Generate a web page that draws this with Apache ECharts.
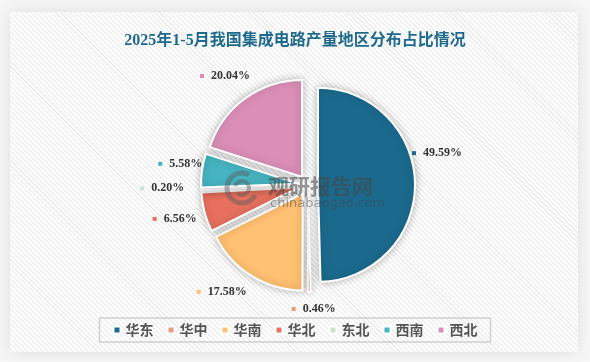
<!DOCTYPE html>
<html><head><meta charset="utf-8">
<script src="https://cdn.jsdelivr.net/npm/echarts@6/dist/echarts.min.js"></script>
<style>
html,body{margin:0;padding:0;background:#fff;}
#wrap{position:relative;width:590px;height:362px;overflow:hidden;background:#f6f6f6;}
#card{position:absolute;left:10px;top:12px;width:568px;height:340px;
background:repeating-linear-gradient(45deg,#ffffff 0px,#ffffff 2px,#efefef 2px,#efefef 3.5px);
box-shadow:0 0 14px rgba(0,0,0,0.10);}
#chart{position:absolute;left:0;top:0;width:590px;height:362px;}
</style></head>
<body><div id="wrap"><div id="card"></div><div id="chart"></div></div>
<script>
var titleText = '2025年1-5月我国集成电路产量地区分布占比情况';
var regions = ['华东','华中','华南','华北','东北','西南','西北'];
var shares = [49.59, 0.46, 17.58, 6.56, 0.20, 5.58, 20.04];
var colors = ['#1b6a8e','#e89c7c','#ffc172','#e8705e','#d0e0cf','#46b4c1','#db8fb6'];

// label nudges (layout only)
var labelNudge = [[-12,-30],[4,-17],[-12,-13],[3,-2],[-5,-3],[12,-2],[0,5]];

var rich = { s:{width:7}, v:{fontSize:12,fontWeight:'bold',color:'#333',fontFamily:'"Liberation Serif","DejaVu Serif",serif'} };
colors.forEach(function(c,i){ rich['m'+i] = {width:4,height:4,backgroundColor:c}; });

var mainData = regions.map(function(n,i){
  return {name:n, value:shares[i], selected:true, itemStyle:{color:colors[i]}};
});
var labelData = regions.map(function(n,i){
  return {name:n, value:shares[i], selected:true};
});

var chart = echarts.init(document.getElementById('chart'));
chart.setOption({
  backgroundColor:'transparent',
  animation:false,
  title:{text:titleText,left:'center',top:28,
    textStyle:{fontSize:16,fontWeight:'bold',color:'#1f6a8c',fontFamily:'"Liberation Serif","Noto Sans CJK SC",serif'}},
  legend:{data:regions,left:'center',top:318,padding:[5,13],itemGap:13,itemWidth:7,itemHeight:7,icon:'rect',
    borderColor:'#d0d0d0',borderWidth:1.5,
    textStyle:{fontSize:14,color:'#555',fontWeight:'bold',fontFamily:'"Noto Sans CJK SC",sans-serif'}},
  graphic:[
    {type:'group',silent:true,z:100,children:[
      {type:'arc',z:100,shape:{cx:242,cy:188,r:15,startAngle:0.5,endAngle:5.2},style:{stroke:'rgba(90,90,90,0.45)',lineWidth:5,fill:null}},
      {type:'arc',z:100,shape:{cx:242,cy:188,r:7,startAngle:3.4,endAngle:8.6},style:{stroke:'rgba(90,90,90,0.45)',lineWidth:4,fill:null}},
      {type:'text',z:100,style:{text:'观研报告网',x:268,y:186,verticalAlign:'middle',font:'bold 21px "Noto Sans CJK SC"',fill:'rgba(70,70,70,0.55)'}},
      {type:'text',z:100,style:{text:'chinabaogao.com',x:270,y:204,verticalAlign:'middle',font:'13px "DejaVu Sans"',fill:'rgba(70,70,70,0.48)'}}
    ]}
  ],
  series:[
    {type:'pie',center:[308,185],radius:97,startAngle:90,clockwise:true,
     selectedMode:'multiple',selectedOffset:10,silent:true,
     label:{show:false},labelLine:{show:false},
     itemStyle:{borderColor:'#fff',borderWidth:2,shadowBlur:8,shadowColor:'rgba(0,0,0,0.28)'},
     emphasis:{disabled:true},
     data:mainData},
    {type:'pie',center:[308,185],radius:[118,138],startAngle:90,clockwise:true,
     selectedMode:'multiple',selectedOffset:10,silent:true,legendHoverLink:false,
     itemStyle:{color:'rgba(0,0,0,0)'},
     emphasis:{disabled:true},
     labelLine:{show:false},
     label:{show:true,position:'inside',rich:rich,
       formatter:function(p){ return '{m'+p.dataIndex+'|}{s|}{v|'+p.value.toFixed(2)+'%}'; }},
     labelLayout:function(p){ var n = labelNudge[p.dataIndex] || [0,0]; return {dx:n[0], dy:n[1]}; },
     data:labelData}
  ]
});
</script></body></html>
